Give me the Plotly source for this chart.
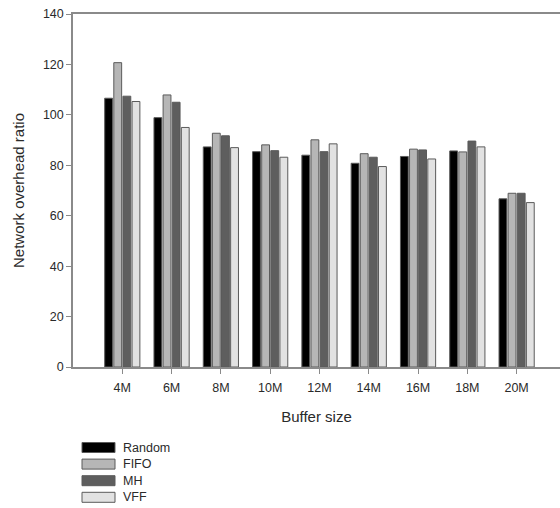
import plotly.graph_objects as go

categories = ["4M", "6M", "8M", "10M", "12M", "14M", "16M", "18M", "20M"]
series_names = ["Random", "FIFO", "MH", "VFF"]
random_vals = [106.6, 98.9, 87.3, 85.4, 84.0, 80.8, 83.5, 85.7, 66.7]
fifo_vals = [120.7, 107.9, 92.7, 88.1, 90.1, 84.6, 86.4, 85.3, 68.9]
mh_vals = [107.4, 105.0, 91.7, 85.8, 85.4, 83.2, 86.1, 89.6, 68.9]
vff_vals = [105.3, 95.0, 87.0, 83.2, 88.5, 79.5, 82.5, 87.3, 65.2]
y_ticks = [0, 20, 40, 60, 80, 100, 120, 140]

colors = ["#000000", "#b6b6b6", "#5e5e5e", "#e2e2e2"]
all_vals = [random_vals, fifo_vals, mh_vals, vff_vals]

W, H = 560, 508
ml, mr, mt, mb = 73, 0, 14, 141
pw, ph = W - ml - mr, H - mt - mb

fam = "Liberation Sans, Arial, sans-serif"
tick_font = dict(family=fam, size=12.5, color="#2a2a2a")
title_font = dict(family=fam, size=15, color="#2a2a2a")
legend_font = dict(family=fam, size=12.5, color="#2a2a2a")

fig = go.Figure()
for name, vals, c in zip(series_names, all_vals, colors):
    fig.add_trace(go.Bar(
        x=list(range(len(categories))), y=vals, name=name,
        marker=dict(color=c, line=dict(color="#5a5a5a", width=1)),
        showlegend=False,
    ))

# custom legend with wide swatches
for i, (name, c) in enumerate(zip(series_names, colors)):
    cy = 447.5 + i * 16.6
    y0 = (H - mb - (cy + 5)) / ph
    y1 = (H - mb - (cy - 5)) / ph
    x0 = (82 - ml) / pw
    x1 = (115 - ml) / pw
    fig.add_shape(type="rect", xref="paper", yref="paper", x0=x0, x1=x1, y0=y0, y1=y1,
                  fillcolor=c, line=dict(color="#5a5a5a", width=1))
    fig.add_annotation(xref="paper", yref="paper", x=(121 - ml) / pw,
                       y=(H - mb - cy) / ph, text=name, showarrow=False,
                       xanchor="left", yanchor="middle", font=legend_font)

fig.update_layout(
    width=W, height=H,
    margin=dict(l=ml, r=mr, t=mt, b=mb),
    paper_bgcolor="white", plot_bgcolor="white",
    barmode="group", bargap=0.26, bargroupgap=0.14,
    font=tick_font,
    xaxis=dict(
        range=[-1, 8.88], tickmode="array",
        tickvals=list(range(len(categories))), ticktext=categories,
        showline=True, linecolor="#8a8a8a", linewidth=1.5, mirror=True,
        ticks="outside", ticklen=5, tickcolor="#8a8a8a", tickwidth=1,
        ticklabelstandoff=3,
        showgrid=False, zeroline=False,
        title=dict(text="Buffer size", font=title_font, standoff=18),
        tickfont=tick_font,
    ),
    yaxis=dict(
        range=[0, 140], tickvals=y_ticks,
        showline=True, linecolor="#8a8a8a", linewidth=1.5,
        ticks="outside", ticklen=5, tickcolor="#8a8a8a", tickwidth=1,
        showgrid=False, zeroline=False,
        title=dict(text="Network overhead ratio", font=title_font, standoff=15),
        tickfont=tick_font,
    ),
)

fig.write_html("out.html")
